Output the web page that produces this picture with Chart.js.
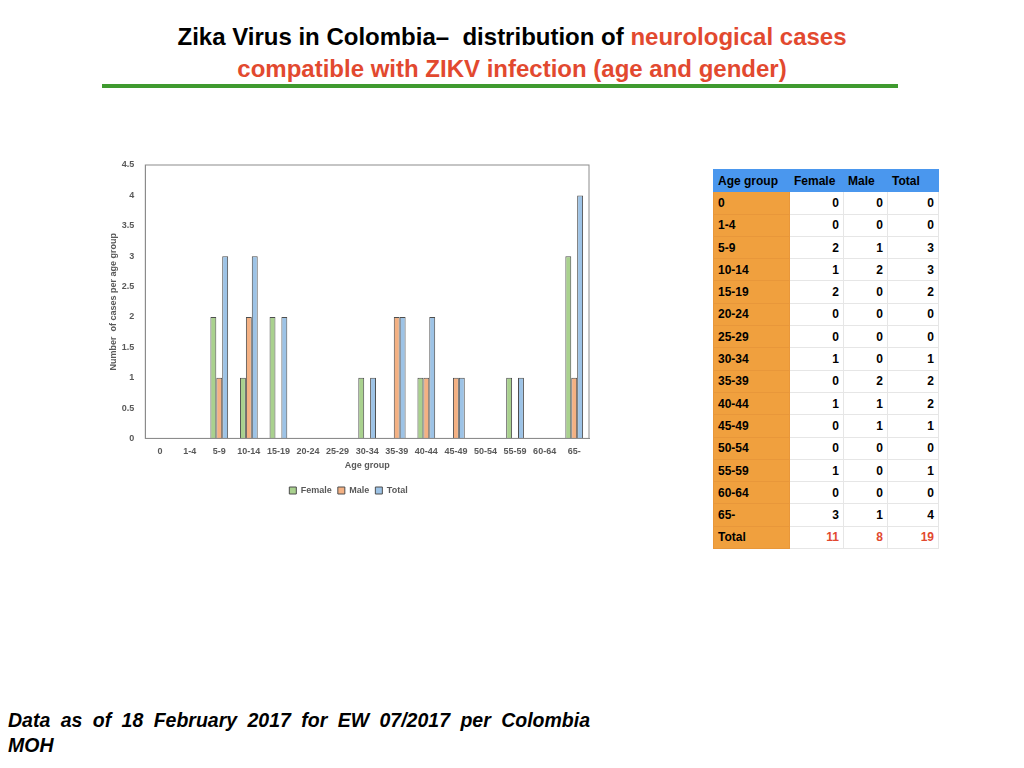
<!doctype html>
<html lang="en">
<head>
<meta charset="utf-8">
<title>Zika Virus in Colombia - neurological cases</title>
<script src="https://cdn.jsdelivr.net/npm/chart.js"></script>
<style>
    body { margin: 0; width: 1024px; height: 768px; background: #fff; position: relative; font-family: Arial, "Liberation Sans", sans-serif; overflow: hidden; }
    #title { position: absolute; left: 0; top: 21px; width: 1024px; text-align: center; font-family: "Liberation Sans Narrow", "Arial Narrow", Arial, sans-serif; font-weight: bold; font-size: 24px; line-height: 32px; color: #000; }
    #title .red { color: #e2492f; }
    #rule { position: absolute; left: 102px; top: 84px; width: 796px; height: 4px; background: #3f9a2f; }
    #chartBox { position: absolute; left: 100px; top: 155px; width: 495px; height: 350px; }
    #tbl { position: absolute; left: 713px; top: 169px; border-collapse: collapse; font-size: 12px; font-weight: bold; }
    #tbl td, #tbl th { height: 22.3px; padding: 0 4px; border: 1px solid #e6e6e6; box-sizing: border-box; }
    #tbl th { background: #4a97ee; text-align: left; border-color: #4a97ee; }
    #tbl td.age { background: #f0a03e; text-align: left; border-color: #e8973a; width: 76px; }
    #tbl td.num { text-align: right; }
    #tbl tr.tot td.num { color: #e2492f; }
    #note { position: absolute; left: 8px; top: 708px; width: 582px; font-size: 19.5px; font-weight: bold; font-style: italic; line-height: 25px; }
    #note .l1 { text-align: justify; text-align-last: justify; }
</style>
</head>
<body>
    <div id="title">Zika Virus in Colombia&#8211;&nbsp; distribution of <span class="red">neurological cases</span><br><span class="red">compatible with ZIKV infection (age and gender)</span></div>
    <div id="rule"></div>
    <div id="chartBox"><canvas id="chartEl"></canvas></div>
    <table id="tbl"></table>
    <div id="note"><div class="l1">Data as of 18 February 2017 for EW 07/2017 per Colombia</div><div>MOH</div></div>
<script>
    const ageGroups = ['0', '1-4', '5-9', '10-14', '15-19', '20-24', '25-29', '30-34', '35-39', '40-44', '45-49', '50-54', '55-59', '60-64', '65-'];
    const female = [0, 0, 2, 1, 2, 0, 0, 1, 0, 1, 0, 0, 1, 0, 3];
    const male = [0, 0, 1, 2, 0, 0, 0, 0, 2, 1, 1, 0, 0, 0, 1];
    const total = [0, 0, 3, 3, 2, 0, 0, 1, 2, 2, 1, 0, 1, 0, 4];
    const totalRow = [11, 8, 19];

    // table on the right
    const tbl = document.getElementById('tbl');
    let html = '<tr><th style="width:76px">Age group</th><th style="width:54px">Female</th><th style="width:44px">Male</th><th style="width:51px">Total</th></tr>';
    ageGroups.forEach((g, i) => {
        html += `<tr><td class="age">${g}</td><td class="num">${female[i]}</td><td class="num">${male[i]}</td><td class="num">${total[i]}</td></tr>`;
    });
    html += `<tr class="tot"><td class="age">Total</td><td class="num">${totalRow[0]}</td><td class="num">${totalRow[1]}</td><td class="num">${totalRow[2]}</td></tr>`;
    tbl.innerHTML = html;

    // box around the plot area
    const plotFrame = {
        id: 'plotFrame',
        afterDraw(chart) {
            const { ctx, chartArea: a } = chart;
            ctx.save();
            ctx.strokeStyle = '#8c8c8c';
            ctx.lineWidth = 1;
            ctx.strokeRect(a.left, a.top, a.right - a.left, a.bottom - a.top);
            ctx.restore();
        }
    };

    const tickFont = { family: 'Arial, "Liberation Sans", sans-serif', size: 9, weight: 'bold' };
    const grey = '#595959';

    new Chart(document.getElementById('chartEl'), {
        type: 'bar',
        data: {
            labels: ageGroups,
            datasets: [
                { label: 'Female', data: female, backgroundColor: '#a9d18e', borderColor: '#4d4d4d', borderWidth: 1 },
                { label: 'Male', data: male, backgroundColor: '#f4b183', borderColor: '#4d4d4d', borderWidth: 1 },
                { label: 'Total', data: total, backgroundColor: '#9dc3e6', borderColor: '#4d4d4d', borderWidth: 1 },
            ]
        },
        options: {
            responsive: true,
            maintainAspectRatio: false,
            animation: false,
            datasets: { bar: { categoryPercentage: 0.6, barPercentage: 1 } },
            layout: { padding: { top: 10, right: 6, left: 8 } },
            plugins: {
                legend: {
                    position: 'bottom',
                    labels: { boxWidth: 7, boxHeight: 7, padding: 6, color: grey, font: tickFont }
                },
                tooltip: { enabled: false }
            },
            scales: {
                x: {
                    grid: { display: false },
                    border: { color: '#8c8c8c' },
                    ticks: { color: grey, font: tickFont, maxRotation: 0, autoSkip: false, padding: 0 },
                    title: { display: true, text: 'Age group', color: grey, font: tickFont, padding: { top: 3, bottom: 9 } }
                },
                y: {
                    min: 0,
                    max: 4.5,
                    grid: { display: false },
                    border: { color: '#8c8c8c' },
                    ticks: { stepSize: 0.5, color: grey, font: tickFont, padding: 3, callback: (v) => String(v) },
                    title: { display: true, text: 'Number  of cases per age group', color: grey, font: tickFont, padding: 0 }
                }
            }
        },
        plugins: [plotFrame]
    });
</script>
</body>
</html>
